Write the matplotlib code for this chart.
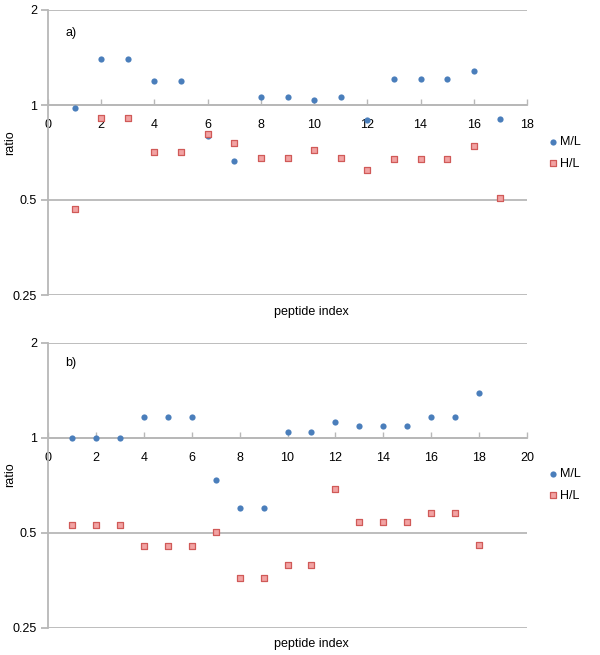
import matplotlib
matplotlib.use('Agg')
import matplotlib.pyplot as plt
from matplotlib.ticker import FixedLocator, FixedFormatter

plt.rcParams['font.family'] = ['Liberation Sans', 'DejaVu Sans']

## data
idx_a = list(range(1, 18))
ml_a = [0.98, 1.40, 1.40, 1.19, 1.19, 0.80, 0.663, 1.06, 1.06, 1.035, 1.06,
        0.896, 1.21, 1.21, 1.21, 1.28, 0.905]
hl_a = [0.468, 0.912, 0.912, 0.711, 0.711, 0.807, 0.756, 0.681, 0.681, 0.722,
        0.681, 0.624, 0.676, 0.676, 0.676, 0.739, 0.507]

idx_b = list(range(1, 19))
ml_b = [1.0, 1.0, 1.0, 1.166, 1.166, 1.166, 0.736, 0.598, 0.598, 1.04, 1.04,
        1.118, 1.089, 1.089, 1.089, 1.166, 1.166, 1.385]
hl_b = [0.530, 0.530, 0.530, 0.454, 0.454, 0.454, 0.504, 0.361, 0.361, 0.395,
        0.395, 0.688, 0.543, 0.543, 0.543, 0.577, 0.577, 0.457]

y_ticks = [0.25, 0.5, 1, 2]
y_labels = ['0.25', '0.5', '1', '2']

GRAY = '#b8b8b8'
BLUE = '#4a7ebb'
PINK_FACE = '#f2a3a3'
PINK_EDGE = '#d05a58'
FS = 9

W, H = 600, 655
fig = plt.figure(figsize=(W / 100, H / 100), dpi=100)


def panel(top_px, bottom_px, xs, ml, hl, xmax, tag, tag_y, label_y, ratio_y, leg_y):
	ax = fig.add_axes([48 / W, 1 - bottom_px / H, (527 - 48) / W, (bottom_px - top_px) / H])
	ax.set_yscale('log', base=2)
	ax.set_ylim(0.25, 2)
	ax.set_xlim(0, xmax)

	ax.scatter(xs, ml, s=20, color=BLUE, marker='o', linewidths=0, label='M/L', zorder=3, clip_on=False)
	ax.scatter(xs, hl, s=17, facecolor=PINK_FACE, edgecolor=PINK_EDGE, marker='s', linewidths=0.9,
			   label='H/L', zorder=4, clip_on=False)

	## axes
	for side in ['top', 'right']:
		ax.spines[side].set_visible(False)
	ax.spines['bottom'].set_position(('data', 1))
	ax.spines['bottom'].set_color(GRAY)
	ax.spines['bottom'].set_linewidth(1.3)
	ax.spines['left'].set_color(GRAY)
	ax.spines['left'].set_linewidth(1.3)

	ax.yaxis.set_major_locator(FixedLocator(y_ticks))
	ax.yaxis.set_major_formatter(FixedFormatter(y_labels))
	ax.yaxis.set_minor_locator(FixedLocator([]))
	ax.set_xticks(range(0, xmax + 1, 2))
	ax.tick_params(axis='y', direction='out', length=5, width=1.3, color=GRAY, pad=3, labelsize=FS)
	ax.tick_params(axis='x', direction='in', length=4, width=1, color=GRAY, pad=10, labelsize=FS)
	ax.grid(True, axis='y', color=GRAY, linewidth=1.3)
	ax.set_axisbelow(True)

	fig.text(65 / W, 1 - tag_y / H, tag, fontsize=FS, va='center')
	fig.text(311 / W, 1 - label_y / H, 'peptide index', ha='center', va='center', fontsize=FS)
	fig.text(10 / W, 1 - ratio_y / H, 'ratio', rotation=90, ha='center', va='center', fontsize=FS)

	ax.legend(loc='center left', bbox_to_anchor=(549 / W, 1 - leg_y / H), bbox_transform=fig.transFigure,
			  frameon=False, fontsize=FS, handlelength=0.7, handletextpad=0.15, labelspacing=0.75,
			  borderaxespad=0, borderpad=0, scatterpoints=1)
	return ax


panel(10, 295, idx_a, ml_a, hl_a, 18, 'a)', 33, 312, 143, 153)
panel(342.7, 628, idx_b, ml_b, hl_b, 20, 'b)', 363, 644, 475, 485)

fig.savefig('out.png', dpi=100, facecolor='white')
